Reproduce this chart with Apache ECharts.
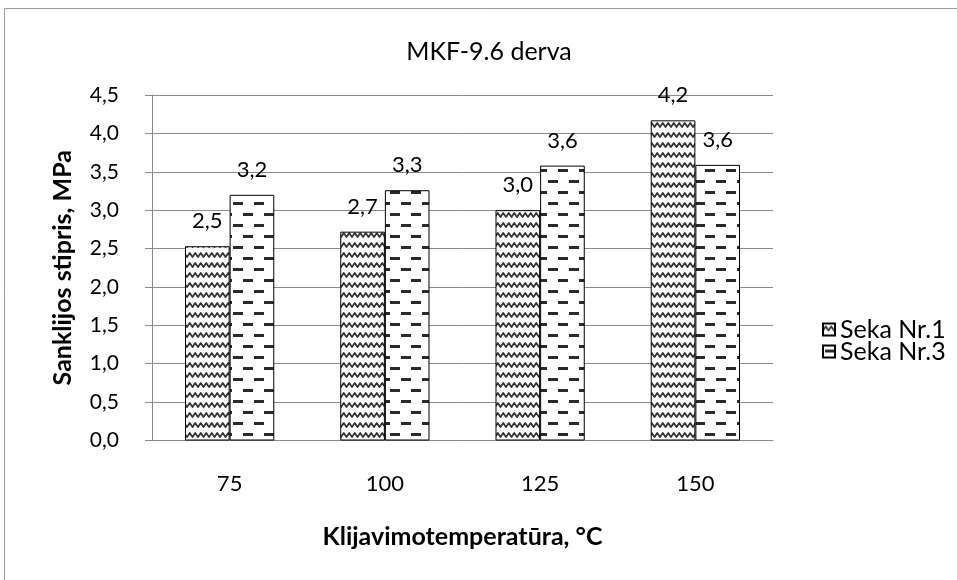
<!DOCTYPE html>
<html>
<head>
<meta charset="utf-8">
<script src="https://cdn.jsdelivr.net/npm/echarts@6/dist/echarts.min.js"></script>
<style>
  html, body { margin: 0; padding: 0; background: #fff; }
  #chart { width: 957px; height: 580px; }
</style>
</head>
<body>
<div id="chart"></div>
<script>
// Bonding temperature categories and shear strength per series
const categories = ['75', '100', '125', '150'];
const seka1 = [2.53, 2.72, 3.0, 4.17];
const seka3 = [3.2, 3.26, 3.58, 3.59];
const seriesNames = ['Seka Nr.1', 'Seka Nr.3'];
const yTicks = { min: 0, max: 4.5, interval: 0.5 };

const FONT = 'Lato, "Open Sans", sans-serif';

// Wavy (zigzag) hatch fill
function wavePattern() {
  const c = document.createElement('canvas');
  c.width = 11; c.height = 10;
  const g = c.getContext('2d');
  g.fillStyle = '#fff';
  g.fillRect(0, 0, c.width, c.height);
  g.strokeStyle = '#333';
  g.lineWidth = 1.8;
  g.lineJoin = 'round';
  g.beginPath();
  g.moveTo(-2.75, 3);
  g.lineTo(0, 7);
  g.lineTo(2.75, 3);
  g.lineTo(5.5, 7);
  g.lineTo(8.25, 3);
  g.lineTo(11, 7);
  g.lineTo(13.75, 3);
  g.stroke();
  return c;
}

// Staggered horizontal dash fill
function dashPattern() {
  const c = document.createElement('canvas');
  c.width = 21; c.height = 22;
  const g = c.getContext('2d');
  g.fillStyle = '#fff';
  g.fillRect(0, 0, c.width, c.height);
  g.fillStyle = '#2a2a2a';
  g.fillRect(2, 4, 10, 3);
  g.fillRect(12, 15, 10, 3);
  g.fillRect(-9, 15, 10, 3);
  return c;
}

const fmt = v => v.toFixed(1).replace('.', ',');

const chart = echarts.init(document.getElementById('chart'), null, { renderer: 'canvas' });

const labelCfg = {
  show: true,
  position: 'top',
  distance: 14,
  color: '#000',
  fontFamily: FONT,
  fontSize: 22,
  formatter: p => fmt(p.value)
};

chart.setOption({
  animation: false,
  backgroundColor: '#fff',
  textStyle: { fontFamily: FONT },
  title: {
    text: 'MKF-9.6 derva',
    left: 484,
    textAlign: 'center',
    top: 34,
    textStyle: { fontFamily: FONT, fontSize: 25, fontWeight: 'normal', color: '#000' }
  },
  graphic: [{
    type: 'rect',
    shape: { x: 4.5, y: 8.5, width: 1200, height: 800 },
    style: { fill: 'none', stroke: '#9a9a9a', lineWidth: 1 },
    silent: true,
    z: -1
  }],
  legend: {
    orient: 'vertical',
    left: 817,
    top: 312,
    itemWidth: 12,
    itemHeight: 12,
    itemGap: -3,
    icon: 'rect',
    textStyle: { fontFamily: FONT, fontSize: 25, color: '#000' },
    data: seriesNames
  },
  grid: { left: 152, right: 184, top: 95, bottom: 139.5 },
  xAxis: {
    type: 'category',
    data: categories,
    name: 'Klijavimotemperatūra, °C',
    nameLocation: 'middle',
    nameGap: 84,
    nameTextStyle: { fontFamily: FONT, fontSize: 25, fontWeight: 'bold', color: '#000' },
    axisLine: { lineStyle: { color: '#8a8a8a', width: 1 } },
    axisTick: { show: false },
    axisLabel: { margin: 32, fontFamily: FONT, fontSize: 22, color: '#000' }
  },
  yAxis: {
    type: 'value',
    min: yTicks.min,
    max: yTicks.max,
    interval: yTicks.interval,
    name: 'Sanklijos stipris, MPa',
    nameLocation: 'middle',
    nameGap: 77,
    nameTextStyle: { fontFamily: FONT, fontSize: 25, fontWeight: 'bold', color: '#000' },
    axisLine: { show: true, lineStyle: { color: '#8a8a8a', width: 1 } },
    axisTick: { show: true, length: 7, inside: false, lineStyle: { color: '#8a8a8a' } },
    splitLine: { lineStyle: { color: '#8a8a8a', width: 1 } },
    axisLabel: { margin: 33, fontFamily: FONT, fontSize: 21, color: '#000', formatter: v => fmt(v) }
  },
  series: [
    {
      name: seriesNames[0],
      type: 'bar',
      data: seka1,
      barGap: '0%',
      barCategoryGap: '42.5%',
      itemStyle: { color: { image: wavePattern(), repeat: 'repeat' }, borderColor: '#000', borderWidth: 1 },
      label: labelCfg
    },
    {
      name: seriesNames[1],
      type: 'bar',
      data: seka3,
      barGap: '0%',
      barCategoryGap: '42.5%',
      itemStyle: { color: { image: dashPattern(), repeat: 'repeat' }, borderColor: '#000', borderWidth: 1 },
      label: labelCfg
    }
  ]
});
</script>
</body>
</html>
